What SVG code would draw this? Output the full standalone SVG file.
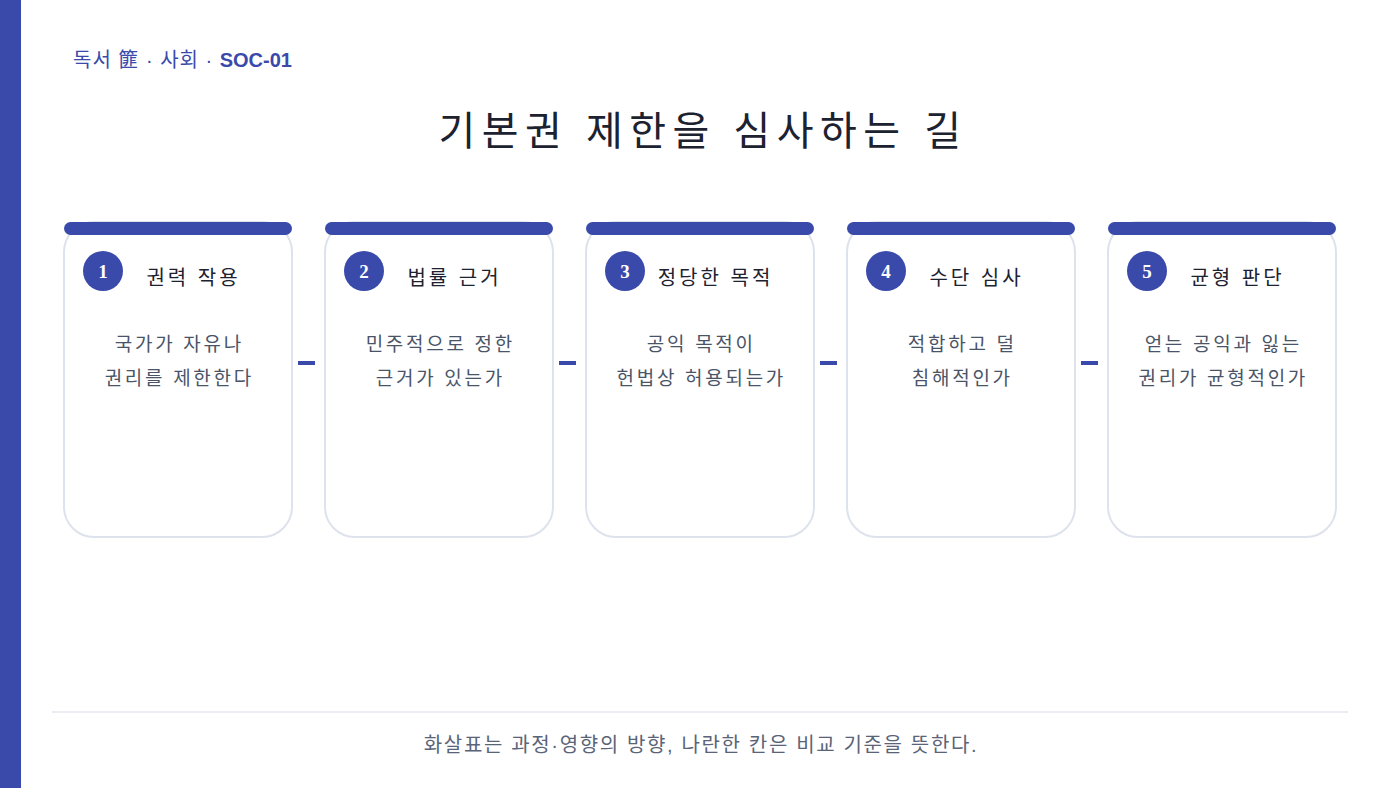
<svg xmlns="http://www.w3.org/2000/svg" width="1400" height="788" viewBox="0 0 1400 788">
<style>
.k{font-family:"Liberation Sans","Noto Sans CJK KR",sans-serif}
.card{fill:#ffffff;stroke:#dde2ec;stroke-width:2}
.bar{fill:#3a4aab}
.num{fill:#3a4aab}
.numt{font-family:"Liberation Serif",serif;font-weight:bold;font-size:19px;fill:#ffffff;text-anchor:middle}
.ttl{font-size:20px;fill:#1c2230;text-anchor:middle;letter-spacing:3px}
.body{font-size:19px;fill:#4a5468;text-anchor:middle;letter-spacing:2.7px}
.conn{stroke:#3a4aab;stroke-width:4}
</style>
<rect width="1400" height="788" fill="#ffffff"/>
<rect x="0" y="0" width="21" height="788" fill="#3a4aab"/>
<text class="k" x="73" y="67" font-size="20" fill="#3a4aab"><tspan letter-spacing="1">독서 篚 · 사회 · </tspan><tspan font-weight="bold">SOC-01</tspan></text>
<text class="k" x="703" y="145" font-size="40" fill="#1c2230" text-anchor="middle" letter-spacing="6.5">기본권 제한을 심사하는 길</text>
<g id="connectors">
<line class="conn" x1="298" y1="363" x2="315" y2="363"/>
<line class="conn" x1="559" y1="363" x2="576" y2="363"/>
<line class="conn" x1="820" y1="363" x2="837" y2="363"/>
<line class="conn" x1="1081" y1="363" x2="1098" y2="363"/>
</g>
<g id="node1">
<rect class="card" x="64" y="222" width="228" height="315" rx="30"/>
<rect class="bar" x="64" y="222" width="228" height="13" rx="6.5"/>
<circle class="num" cx="103" cy="271" r="20"/>
<text class="numt" x="103" y="278">1</text>
<text class="k ttl" x="193.5" y="285">권력 작용</text>
<text class="k body" x="179.3" y="351">국가가 자유나</text>
<text class="k body" x="179.3" y="385">권리를 제한한다</text>
</g>
<g id="node2">
<rect class="card" x="325" y="222" width="228" height="315" rx="30"/>
<rect class="bar" x="325" y="222" width="228" height="13" rx="6.5"/>
<circle class="num" cx="364" cy="271" r="20"/>
<text class="numt" x="364" y="278">2</text>
<text class="k ttl" x="454.5" y="285">법률 근거</text>
<text class="k body" x="440.3" y="351">민주적으로 정한</text>
<text class="k body" x="440.3" y="385">근거가 있는가</text>
</g>
<g id="node3">
<rect class="card" x="586" y="222" width="228" height="315" rx="30"/>
<rect class="bar" x="586" y="222" width="228" height="13" rx="6.5"/>
<circle class="num" cx="625" cy="271" r="20"/>
<text class="numt" x="625" y="278">3</text>
<text class="k ttl" x="715.5" y="285">정당한 목적</text>
<text class="k body" x="701.3" y="351">공익 목적이</text>
<text class="k body" x="701.3" y="385">헌법상 허용되는가</text>
</g>
<g id="node4">
<rect class="card" x="847" y="222" width="228" height="315" rx="30"/>
<rect class="bar" x="847" y="222" width="228" height="13" rx="6.5"/>
<circle class="num" cx="886" cy="271" r="20"/>
<text class="numt" x="886" y="278">4</text>
<text class="k ttl" x="976.5" y="285">수단 심사</text>
<text class="k body" x="962.3" y="351">적합하고 덜</text>
<text class="k body" x="962.3" y="385">침해적인가</text>
</g>
<g id="node5">
<rect class="card" x="1108" y="222" width="228" height="315" rx="30"/>
<rect class="bar" x="1108" y="222" width="228" height="13" rx="6.5"/>
<circle class="num" cx="1147" cy="271" r="20"/>
<text class="numt" x="1147" y="278">5</text>
<text class="k ttl" x="1237.5" y="285">균형 판단</text>
<text class="k body" x="1223.3" y="351">얻는 공익과 잃는</text>
<text class="k body" x="1223.3" y="385">권리가 균형적인가</text>
</g>
<line x1="52" y1="712" x2="1348" y2="712" stroke="#e6e9ef" stroke-width="1.5"/>
<text class="k" x="701" y="752" font-size="20" fill="#5a6478" text-anchor="middle" letter-spacing="1.65">화살표는 과정·영향의 방향, 나란한 칸은 비교 기준을 뜻한다.</text>
</svg>
